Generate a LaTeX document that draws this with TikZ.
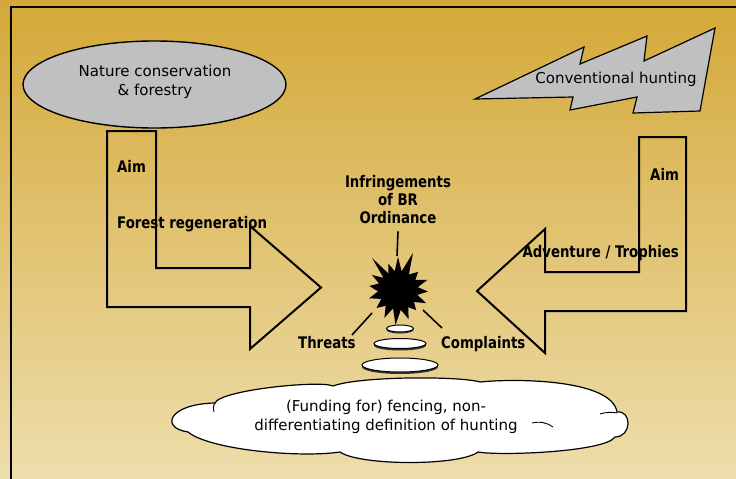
\documentclass[tikz,border=0pt]{standalone}
\usepackage{fontspec}
\setmainfont{DejaVu Sans}
\usetikzlibrary{shapes.geometric}
\definecolor{goldtop}{RGB}{212,168,56}
\definecolor{goldbottom}{RGB}{238,222,172}
\definecolor{shapegray}{RGB}{192,192,192}
\begin{document}
\begin{tikzpicture}[x=1pt,y=-1pt,
  reg/.style={font=\fontsize{15}{19}\selectfont, inner sep=0pt, align=center},
  lbl/.style={font=\fontsize{13.3}{15}\selectfont\bfseries, inner sep=0pt,
              align=center, yscale=1.2, transform shape},
  outline/.style={draw=black, line width=2pt, line join=miter},
  bubble/.style={draw=black, fill=white, line width=1pt},
  conn/.style={draw=black, line width=1.6pt}]
\useasboundingbox (0,0) rectangle (736,479);
% background and frame
\shade[top color=goldtop, bottom color=goldbottom] (0,0) rectangle (736,479);
\draw[line width=2pt] (11,479) -- (11,7) -- (736,7);

% actors
\node[ellipse, draw=black, fill=shapegray, line width=1.4pt,
      minimum width=263pt, minimum height=87pt, inner sep=0pt] (nature) at (154.5,84.5) {};
\node[reg] (naturetxt) at (155,82) {Nature conservation\\\& forestry};

\filldraw[fill=shapegray, draw=black, line width=1.2pt, line join=miter]
  (475,99) -- (584,47) -- (580,64) -- (647,36) -- (644,61) -- (715,28)
  -- (700,111) -- (633,113) -- (637,97) -- (570,110) -- (573,97) -- cycle;
\node[reg] (hunting) at (616,79) {Conventional hunting};

% bent block arrows
\draw[outline] (107,131) -- (107,307) -- (250,307) -- (250,349) -- (321,287.5)
  -- (250,226) -- (250,268) -- (156,268) -- (156,131) -- cycle;
\draw[outline] (639,137) -- (686,137) -- (686,311) -- (545,311) -- (545,353)
  -- (477,291) -- (545,229) -- (545,272) -- (639,272) -- cycle;

% arrow labels
\node[lbl, anchor=base west] (aimL) at (117,172) {Aim};
\node[lbl, anchor=base west] (forest) at (117,228) {Forest regeneration};
\node[lbl, anchor=base west] (aimR) at (650,180) {Aim};
\node[lbl, anchor=base east] (adventure) at (679,257) {Adventure / Trophies};

% the clash in the middle
\node[lbl] (infr) at (398,200) {Infringements\\of BR\\Ordinance};
\coordinate (burst) at (398,290);
\fill[black] ([shift={(burst)}]270:33)
  \foreach \a/\r in {281/19, 292/40, 305/19, 318/27, 330/20, 341/31, 352/20,
                     363/30, 374/20, 385/31, 397/20, 408/27, 419/20, 430/31,
                     442/20, 454/35, 465/19, 476/31, 488/20, 500/28, 512/19,
                     524/30, 536/20, 548/29, 559/20, 570/30, 580/19, 591/41,
                     600/19, 610/28, 620/19}
  { -- ([shift={(burst)}]\a:\r) } -- cycle;

\coordinate (bursttop) at (397,256);
\coordinate (burstleft) at (372,313);
\coordinate (burstright) at (423,310);
\coordinate (threatsend) at (352,335);
\coordinate (complend) at (442,328);
\draw[conn] ([yshift=-7pt]infr.south) -- (bursttop);

\node[lbl, anchor=base west] (threats) at (298,348) {Threats};
\node[lbl, anchor=base west] (compl) at (441,348) {Complaints};
\draw[conn] (threatsend) -- (burstleft);
\draw[conn] (burstright) -- (complend);

% thought bubbles leading to the cloud
\fill[black!80] (400,330) ellipse [x radius=13.5, y radius=3.5];
\draw[bubble] (400,328.5) ellipse [x radius=13.5, y radius=3.5];
\fill[black!80] (400,345.5) ellipse [x radius=26, y radius=5];
\draw[bubble] (400,343.5) ellipse [x radius=26, y radius=5];
\fill[black!80] (400,367) ellipse [x radius=38, y radius=7];
\draw[bubble] (400,365) ellipse [x radius=38, y radius=7];

% cloud
\draw[bubble, line width=1.2pt]
  (188,432) .. controls (160,428) and (168,404) .. (215,403)
  .. controls (220,390) and (320,380) .. (333,386)
  .. controls (360,376) and (460,376) .. (480,382)
  .. controls (520,378) and (612,380) .. (617,412)
  .. controls (632,410) and (632,437) .. (615,437)
  .. controls (605,452) and (500,456) .. (478,452)
  .. controls (460,466) and (360,466) .. (340,452)
  .. controls (300,458) and (210,450) .. (188,432) -- cycle;
\draw[line width=0.9pt] (532,423) .. controls (540,421) and (548,423) .. (553,427);
\draw[line width=0.9pt] (600,414) .. controls (606,412) and (612,412) .. (617,413);
\draw[line width=0.9pt] (215,403) .. controls (213,406) and (213,409) .. (214,412);
\node[reg] (cloudtxt) at (386,417) {(Funding for) fencing, non-\\differentiating definition of hunting};
\end{tikzpicture}
\end{document}
